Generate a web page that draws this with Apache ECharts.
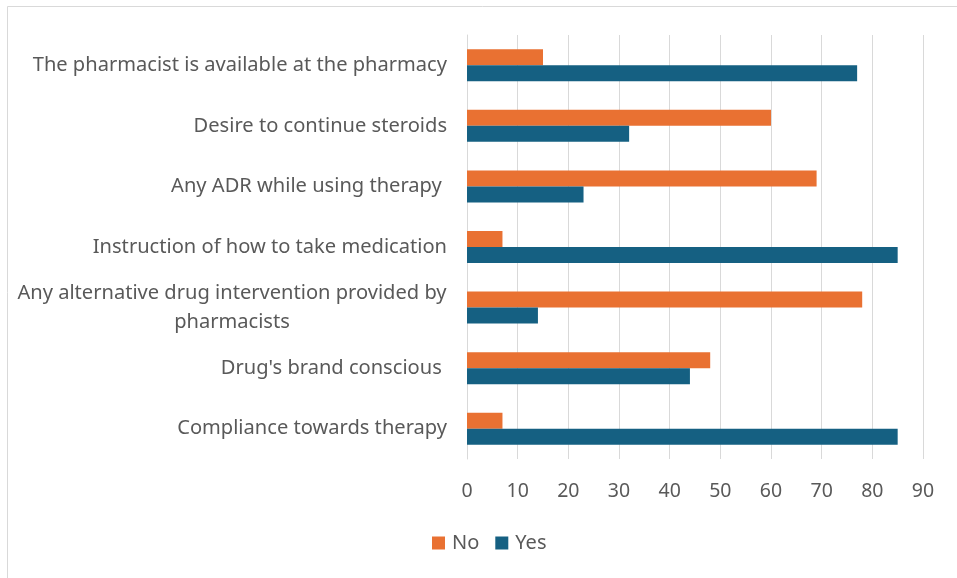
<!DOCTYPE html>
<html>
<head>
<meta charset="utf-8">
<script src="https://cdn.jsdelivr.net/npm/echarts@6/dist/echarts.min.js"></script>
<style>
html,body{margin:0;padding:0;background:#fff;}
#c{width:957px;height:578px;}
</style>
</head>
<body>
<div id="c"></div>
<script>
const categories = [
  "The pharmacist is available at the pharmacy",
  "Desire to continue steroids",
  "Any ADR while using therapy ",
  "Instruction of how to take medication",
  "Any alternative drug intervention provided by\npharmacists",
  "Drug's brand conscious ",
  "Compliance towards therapy"
];
const noValues = [15, 60, 69, 7, 78, 48, 7];
const yesValues = [77, 32, 23, 85, 14, 44, 85];
const seriesNames = ["No", "Yes"];
const xMin = 0, xMax = 90, xStep = 10;

const FONT = '"Noto Sans", sans-serif';
const LABEL_SIZE = 20.1;
// measure widest line of wrapped labels so that wrapped lines can be centred
const cv = document.createElement('canvas').getContext('2d');
cv.font = LABEL_SIZE + 'px ' + FONT;
let wrapW = 0;
categories.forEach(c => { if (c.indexOf('\n') >= 0) c.split('\n').forEach(l => { wrapW = Math.max(wrapW, Math.ceil(cv.measureText(l).width)); }); });

const chart = echarts.init(document.getElementById('c'), null, {renderer: 'canvas'});
chart.setOption({
  animation: false,
  backgroundColor: '#fff',
  graphic: [{
    type: 'rect', left: 5, top: 4,
    shape: {width: 950, height: 572},
    style: {fill: 'none', stroke: '#d9d9d9', lineWidth: 1}
  }],
  grid: {left: 467, right: 34, top: 35, bottom: 119, containLabel: false},
  xAxis: {
    type: 'value', min: xMin, max: xMax, interval: xStep,
    axisLine: {show: false}, axisTick: {show: false},
    splitLine: {show: true, lineStyle: {color: '#d9d9d9', width: 1}},
    axisLabel: {color: '#595959', fontSize: 19.5, fontFamily: FONT, margin: 22}
  },
  yAxis: {
    type: 'category', data: categories, inverse: true,
    axisLine: {show: true, lineStyle: {color: '#d9d9d9'}},
    axisTick: {show: false},
    axisLabel: {
      color: '#595959', fontSize: LABEL_SIZE, fontFamily: FONT, margin: 20, align: 'right', lineHeight: 29,
      formatter: function (v) {
        if (v.indexOf('\n') < 0) return v;
        return v.split('\n').map(l => '{w|' + l + '}').join('\n');
      },
      rich: {w: {width: wrapW, align: 'center', color: '#595959', fontSize: LABEL_SIZE, fontFamily: FONT, lineHeight: 29}}
    }
  },
  legend: {
    bottom: 20, left: 427,
    itemWidth: 13, itemHeight: 13, itemGap: 16, icon: 'rect',
    textStyle: {color: '#595959', fontSize: 20, fontFamily: FONT, padding: [0, 0, 0, 2]},
    data: seriesNames
  },
  series: [
    {name: seriesNames[0], type: 'bar', data: noValues, barWidth: 16, barGap: '0%',
     itemStyle: {color: '#E97132'}},
    {name: seriesNames[1], type: 'bar', data: yesValues, barWidth: 16, barGap: '0%',
     itemStyle: {color: '#156082'}}
  ]
});
</script>
</body>
</html>
